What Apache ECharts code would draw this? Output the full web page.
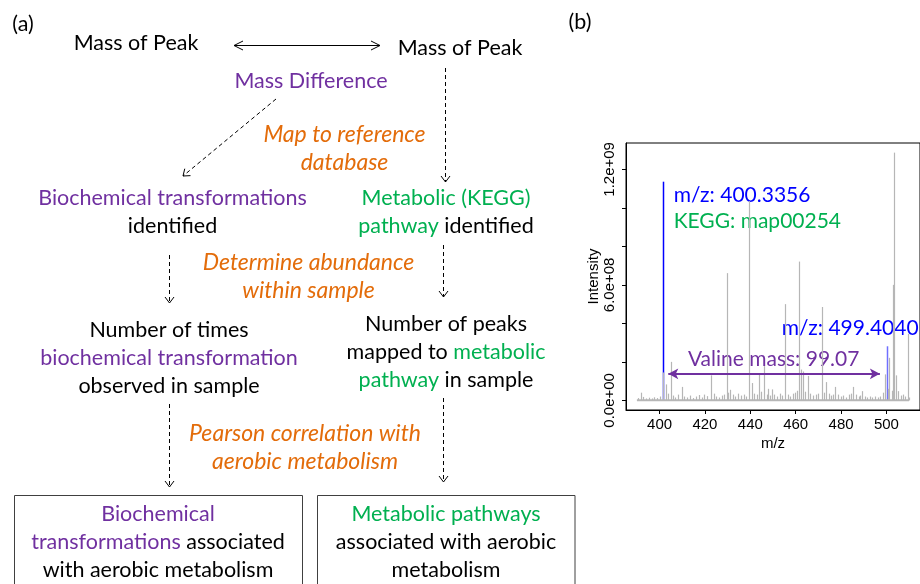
<!DOCTYPE html>
<html>
<head>
<meta charset="utf-8">
<script src="https://cdn.jsdelivr.net/npm/echarts@6/dist/echarts.min.js"></script>
<style>
  html, body { margin: 0; padding: 0; background: #ffffff; }
  #chart { width: 920px; height: 584px; }
</style>
</head>
<body>
<div id="chart"></div>
<script>
// ---------- colours & fonts ----------
const PURPLE = '#7030A0';
const GREEN = '#00B050';
const ORANGE = '#E36C0A';
const BLUE = '#0000FF';
const BLUE_LIGHT = '#6F6FFF';
const GREY = '#B6B6B6';
const FLOW_FONT = 'Lato, "Open Sans", sans-serif';
const AXIS_FONT = '"Liberation Sans", Arial, Helvetica, sans-serif';
const FS = 21.5;      // regular diagram text
const FS_IT = 23;     // italic step captions
const FS_NOTE = 21;   // spectrum annotations

// ---------- spectrum data (panel b) ----------
const mzTicks = [400, 420, 440, 460, 480, 500];
const intensityTicks = [0, 2e8, 4e8, 6e8, 8e8, 1e9, 1.2e9];
const intensityLabelTicks = [0, 6e8, 1.2e9];

// centroided peaks: m/z and intensity
const peakMz = [
  390.5, 391.8, 392.8, 393.9, 395.2, 396.6, 397.7, 399.0, 400.4, 401.7,
  402.9, 403.8, 404.9, 405.9, 406.8, 408.0, 409.8, 410.9, 412.2, 413.5,
  414.8, 416.0, 417.3, 418.6, 419.8, 421.0, 422.6, 423.8, 425.0, 426.3,
  427.5, 428.6, 429.8, 430.3, 431.0, 432.2, 433.4, 434.6, 435.8, 437.1,
  438.3, 439.5, 440.7, 441.5, 442.8, 443.8, 444.9, 446.2, 447.2, 447.9,
  448.5, 449.5, 450.6, 451.8, 453.0, 454.1, 455.2, 456.4, 457.5, 458.7,
  459.9, 460.5, 461.3, 462.5, 463.2, 464.3, 465.3, 466.5, 467.6, 468.8,
  470.0, 471.4, 472.3, 473.3, 474.5, 475.6, 476.5, 477.5, 478.7, 479.9,
  481.0, 482.2, 483.4, 484.5, 485.4, 486.5, 487.7, 488.4, 489.3, 490.4,
  491.6, 492.7, 493.8, 495.0, 496.1, 497.3, 498.5, 499.4, 500.9, 501.3,
  502.3, 503.0, 503.2, 504.3, 505.3, 506.3, 507.4, 508.4, 509.4, 510.0
];
const peakIntensity = [
  0.12e8, 0.40e8, 0.18e8, 0.10e8, 0.14e8, 0.10e8, 0.16e8, 0.12e8, 0.20e8, 1.45e8,
  0.83e8, 0.35e8, 2.00e8, 0.25e8, 0.15e8, 0.30e8, 0.70e8, 0.20e8, 0.15e8, 0.25e8,
  0.12e8, 0.20e8, 0.28e8, 0.15e8, 0.30e8, 0.22e8, 1.30e8, 0.35e8, 0.20e8, 0.15e8,
  0.25e8, 0.30e8, 6.61e8, 0.40e8, 0.55e8, 0.30e8, 0.20e8, 0.35e8, 0.25e8, 0.30e8,
  0.20e8, 10.35e8, 0.90e8, 0.35e8, 0.30e8, 1.35e8, 0.45e8, 1.78e8, 0.30e8, 0.60e8,
  0.25e8, 0.57e8, 0.30e8, 0.20e8, 0.35e8, 0.25e8, 5.00e8, 0.30e8, 0.20e8, 0.35e8,
  0.40e8, 0.50e8, 7.21e8, 1.60e8, 1.50e8, 0.45e8, 1.27e8, 0.35e8, 0.25e8, 0.30e8,
  0.35e8, 4.85e8, 0.40e8, 0.95e8, 0.35e8, 0.25e8, 0.30e8, 0.70e8, 0.30e8, 0.20e8,
  0.25e8, 0.15e8, 0.30e8, 0.35e8, 0.70e8, 0.30e8, 0.20e8, 0.25e8, 0.48e8, 0.20e8,
  0.15e8, 0.20e8, 0.15e8, 0.20e8, 0.15e8, 0.20e8, 0.40e8, 1.35e8, 0.60e8, 2.21e8,
  0.50e8, 6.00e8, 12.87e8, 1.30e8, 0.48e8, 0.25e8, 0.30e8, 0.20e8, 3.45e8, 0.15e8
];
const baselineMz = [390, 510];

// annotated pair of masses (neutral) and the height of their marker lines
const annotatedMz = [400.3356, 499.4040];
const annotatedLineTop = [11.36e8, 2.81e8];
const annotatedKegg = 'map00254';
const ION_SHIFT = 1.00728; // spectrum axis shows [M+H]+ ions

// ---------- helpers ----------
function sciLabel(v) {
  if (v === 0) return '0.0e+00';
  const e = Math.floor(Math.log10(v) + 1e-9);
  const m = (v / Math.pow(10, e)).toFixed(1);
  return m + 'e+' + String(e).padStart(2, '0');
}

const RICH = {
  p: { fill: PURPLE, fontSize: FS, fontFamily: FLOW_FONT },
  g: { fill: GREEN, fontSize: FS, fontFamily: FLOW_FONT }
};

function flowText(x, y, text, color, italic) {
  return {
    type: 'text', x: x, y: y, silent: true,
    style: {
      text: text, x: 0, y: 0,
      fill: color || '#000',
      fontSize: italic ? FS_IT : FS, fontFamily: FLOW_FONT,
      fontStyle: italic ? 'italic' : 'normal',
      align: 'center', verticalAlign: 'middle',
      textAlign: 'center', textVerticalAlign: 'middle',
      lineHeight: 28,
      rich: RICH
    }
  };
}

function noteText(pt, text, color) {
  return {
    type: 'text', x: pt[0], y: pt[1], silent: true,
    style: {
      text: text, x: 0, y: 0, fill: color,
      fontSize: FS_NOTE, fontFamily: FLOW_FONT,
      align: 'left', verticalAlign: 'middle',
      textAlign: 'left', textVerticalAlign: 'middle'
    }
  };
}

function seg(x1, y1, x2, y2, dashed, color) {
  return {
    type: 'line', silent: true,
    shape: { x1: x1, y1: y1, x2: x2, y2: y2 },
    style: { stroke: color || '#000', lineWidth: 1, lineDash: dashed ? [4, 3] : null }
  };
}

// open chevron arrow head at (x, y) pointing along direction from (fx, fy)
function head(x, y, fx, fy, len, half) {
  const a = Math.atan2(y - fy, x - fx);
  const bx = x - len * Math.cos(a), by = y - len * Math.sin(a);
  const nx = -Math.sin(a) * half, ny = Math.cos(a) * half;
  return {
    type: 'polyline', silent: true,
    shape: { points: [[bx + nx, by + ny], [x, y], [bx - nx, by - ny]] },
    style: { stroke: '#000', lineWidth: 1, fill: null }
  };
}

function arrow(x1, y1, x2, y2, dashed) {
  return [seg(x1, y1, x2, y2, dashed), head(x2, y2, x1, y1, 6, 4.5)];
}

// ---------- panel (a): workflow diagram ----------
const flow = [].concat(
  [flowText(23, 24, '(a)')],
  [flowText(136, 43, 'Mass of Peak')],
  [flowText(460, 48, 'Mass of Peak')],
  [seg(234, 45.5, 380, 45.5), head(234, 45.5, 300, 45.5, 9, 4.5), head(380, 45.5, 300, 45.5, 9, 4.5)],
  [flowText(311, 81, 'Mass Difference', PURPLE)],
  arrow(276, 99, 183, 176, true),
  arrow(445.5, 68, 445.5, 182, true),
  [flowText(344.5, 149, 'Map to reference\ndatabase', ORANGE, true)],
  [flowText(172.5, 212.5, '{p|Biochemical transformations}\nidentified')],
  [flowText(446, 212.5, '{g|Metabolic (KEGG)}\n{g|pathway} identified')],
  arrow(169.5, 255, 169.5, 303, true),
  arrow(443.5, 245, 443.5, 297, true),
  [flowText(308.5, 277, 'Determine abundance\nwithin sample', ORANGE, true)],
  [flowText(169, 358.5, 'Number of times\n{p|biochemical transformation}\nobserved in sample')],
  [flowText(446, 352.5, 'Number of peaks\nmapped to {g|metabolic}\n{g|pathway} in sample')],
  arrow(169.5, 404, 169.5, 487, true),
  arrow(443.5, 398, 443.5, 482, true),
  [flowText(305, 448, 'Pearson correlation with\naerobic metabolism', ORANGE, true)],
  [{
    type: 'rect', silent: true,
    shape: { x: 14.5, y: 495.5, width: 288, height: 120 },
    style: { stroke: '#404040', lineWidth: 1, fill: null }
  }, {
    type: 'rect', silent: true,
    shape: { x: 317.5, y: 495.5, width: 257.5, height: 120 },
    style: { stroke: '#404040', lineWidth: 1, fill: null }
  }],
  [flowText(158, 542.5, '{p|Biochemical}\n{p|transformations} associated\nwith aerobic metabolism')],
  [flowText(446, 542.5, '{g|Metabolic pathways}\nassociated with aerobic\nmetabolism')],
  [flowText(580, 22, '(b)')]
);

// ---------- panel (b): spectrum ----------
const peakData = peakMz.map((m, i) => [m, peakIntensity[i]]);
const markerData = annotatedMz.map((m, i) => [m + ION_SHIFT, annotatedLineTop[i]]);
const markerColors = [BLUE, BLUE_LIGHT];

function stickRenderer(colorOf, width) {
  return function (params, api) {
    const x = api.value(0), y = api.value(1);
    const p0 = api.coord([x, 0]);
    const p1 = api.coord([x, y]);
    const px = Math.round(p0[0]) + 0.5;
    return {
      type: 'line',
      shape: { x1: px, y1: p0[1], x2: px, y2: p1[1] },
      style: { stroke: colorOf(params.dataIndex), lineWidth: width }
    };
  };
}

const mass1 = annotatedMz[0] + ION_SHIFT;
const mass2 = annotatedMz[1] + ION_SHIFT;
const valineMass = (annotatedMz[1] - annotatedMz[0]).toFixed(2);

const option = {
  animation: false,
  backgroundColor: '#ffffff',
  grid: {
    left: 626, top: 143, width: 298, height: 267,
    show: true, borderColor: '#000', borderWidth: 1, backgroundColor: 'transparent'
  },
  xAxis: {
    type: 'value', min: 385.2, max: 514.8,
    name: 'm/z', nameLocation: 'middle', nameGap: 26,
    nameTextStyle: { fontFamily: AXIS_FONT, fontSize: 15, color: '#000' },
    axisLine: { show: true, onZero: false, lineStyle: { color: '#000', width: 1 } },
    axisTick: { show: true, length: 4, inside: false, customValues: mzTicks, lineStyle: { color: '#000' } },
    axisLabel: { show: true, customValues: mzTicks, margin: 7, fontFamily: AXIS_FONT, fontSize: 15, color: '#000' },
    splitLine: { show: false }
  },
  yAxis: {
    type: 'value', min: -5.0e7, max: 1.337e9,
    name: 'Intensity', nameLocation: 'middle', nameGap: 25,
    nameTextStyle: { fontFamily: AXIS_FONT, fontSize: 15, color: '#000' },
    axisLine: { show: true, onZero: false, lineStyle: { color: '#000', width: 1 } },
    axisTick: { show: true, length: 4, inside: false, customValues: intensityTicks, lineStyle: { color: '#000' } },
    axisLabel: {
      show: true, customValues: intensityLabelTicks, rotate: 90, margin: 9,
      fontFamily: AXIS_FONT, fontSize: 15, color: '#000', formatter: sciLabel
    },
    splitLine: { show: false }
  },
  graphic: { elements: flow },
  series: [
    {
      type: 'line', name: 'baseline', silent: true,
      data: baselineMz.map(m => [m, 0]),
      symbol: 'none', lineStyle: { color: GREY, width: 2 }
    },
    {
      type: 'custom', name: 'annotated', silent: true,
      renderItem: stickRenderer(i => markerColors[i], 1.5),
      encode: { x: 0, y: 1 },
      data: markerData
    },
    {
      type: 'custom', name: 'peaks', silent: true,
      renderItem: stickRenderer(() => GREY, 1.2),
      encode: { x: 0, y: 1 },
      data: peakData,
      markLine: {
        silent: true, animation: false,
        symbol: ['arrow', 'arrow'], symbolSize: [8, 10],
        label: { show: false },
        lineStyle: { color: PURPLE, width: 2, type: 'solid', opacity: 1 },
        emphasis: { disabled: true },
        data: [[{ coord: [mass1 + 2.5, 1.38e8] }, { coord: [mass2 - 3.3, 1.38e8] }]]
      }
    }
  ]
};

const chart = echarts.init(document.getElementById('chart'), null, { renderer: 'canvas' });
chart.setOption(option);

// annotation texts, anchored in data space of the spectrum
const toPx = v => chart.convertToPixel({ gridIndex: 0 }, v);
const notes = [
  noteText(toPx([406.2, 10.67e8]), 'm/z: ' + annotatedMz[0].toFixed(4), BLUE),
  noteText(toPx([406.2, 9.29e8]), 'KEGG: ' + annotatedKegg, GREEN),
  noteText(toPx([453.9, 3.76e8]), 'm/z: ' + annotatedMz[1].toFixed(4), BLUE),
  noteText(toPx([412.5, 2.16e8]), 'Valine mass: ' + valineMass, PURPLE)
];
chart.setOption({ graphic: { elements: flow.concat(notes) } });
</script>
</body>
</html>
